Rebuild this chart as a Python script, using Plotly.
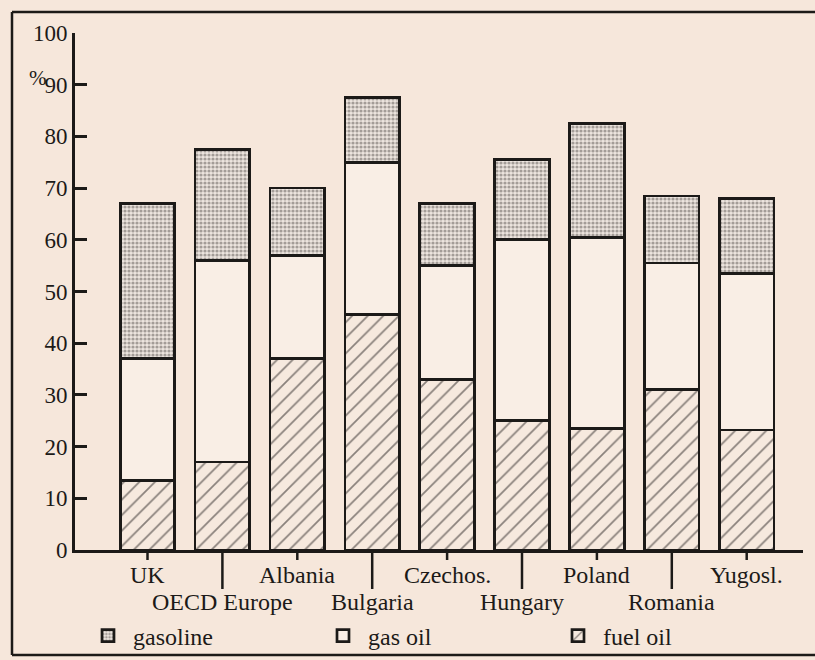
import plotly.graph_objects as go

categories = ["UK", "OECD Europe", "Albania", "Bulgaria", "Czechos.",
              "Hungary", "Poland", "Romania", "Yugosl."]
fuel_oil = [13.5, 17.0, 37.0, 45.5, 33.0, 25.0, 23.5, 31.0, 23.2]
gas_oil = [23.5, 39.0, 20.0, 29.5, 22.0, 35.0, 37.0, 24.5, 30.3]
gasoline = [30.0, 21.5, 13.0, 12.5, 12.0, 15.5, 22.0, 13.0, 14.5]
y_ticks = [0, 10, 20, 30, 40, 50, 60, 70, 80, 90, 100]

BG = "#f6e7db"
INK = "#1c1a18"
FONT = "Liberation Serif"

x_idx = list(range(len(categories)))

fig = go.Figure()
fig.add_trace(go.Bar(
    x=x_idx, y=fuel_oil, name="fuel oil", width=0.73,
    marker=dict(color="#f6e9de", line=dict(color=INK, width=2.7),
                pattern=dict(shape="/", fgcolor="#1e1b19", bgcolor="#f6e9de",
                             size=11, solidity=0.16)),
))
fig.add_trace(go.Bar(
    x=x_idx, y=gas_oil, name="gas oil", width=0.73,
    marker=dict(color="#f9eee5", line=dict(color=INK, width=2.7)),
))
fig.add_trace(go.Bar(
    x=x_idx, y=gasoline, name="gasoline", width=0.73,
    marker=dict(color="#d0c8c2", line=dict(color=INK, width=2.7),
                pattern=dict(shape=".", fgcolor="#5a5450", bgcolor="#ece4de",
                             size=4, solidity=0.5)),
))

# plot area: left 75px, right 803px, top 33px, bottom 550px
L, R, T, B = 75, 803, 33, 550
W, H = R - L, B - T

def px(xp):
    return (xp - L) / W

def py(yp):
    return (B - yp) / H

shapes = []
# outer frame (top, left, bottom; right side runs off the page)
shapes.append(dict(type="line", xref="paper", yref="paper", x0=px(12), x1=px(830),
                   y0=py(12), y1=py(12), line=dict(color=INK, width=2.5)))
shapes.append(dict(type="line", xref="paper", yref="paper", x0=px(12), x1=px(12),
                   y0=py(12), y1=py(655), line=dict(color=INK, width=2.5)))
shapes.append(dict(type="line", xref="paper", yref="paper", x0=px(12), x1=px(830),
                   y0=py(655), y1=py(655), line=dict(color=INK, width=2.5)))

annotations = []
for i, cat in enumerate(categories):
    upper = (i % 2 == 0)
    tick_end = py(560) if upper else py(589)
    shapes.append(dict(type="line", xref="x", yref="paper", x0=i, x1=i,
                       y0=0, y1=tick_end, line=dict(color=INK, width=2.5)))
    annotations.append(dict(x=i, xref="x", y=py(575) if upper else py(602), yref="paper",
                            text=cat, showarrow=False, xanchor="center", yanchor="middle",
                            font=dict(family=FONT, size=24, color=INK)))

annotations.append(dict(x=px(27), y=py(64), xref="paper", yref="paper", text="%",
                        showarrow=False, font=dict(family=FONT, size=21, color=INK)))

fig.update_layout(
    width=815, height=660,
    margin=dict(l=L, r=815 - R, t=T, b=660 - B, autoexpand=False),
    paper_bgcolor=BG, plot_bgcolor=BG,
    barmode="stack", bargap=0.27,
    showlegend=True,
    legend=dict(orientation="h", traceorder="reversed", x=px(83), y=py(636),
                xanchor="left", yanchor="middle", bgcolor="rgba(0,0,0,0)",
                font=dict(family=FONT, size=24, color=INK),
                entrywidth=180, entrywidthmode="pixels", itemwidth=40),
    shapes=shapes, annotations=annotations,
    xaxis=dict(range=[(L - 147.5) / 74.9, (R - 147.5) / 74.9], showgrid=False,
               showticklabels=False, ticks="", zeroline=False,
               showline=True, linecolor=INK, linewidth=3),
    yaxis=dict(range=[0, 100], tickvals=y_ticks, showgrid=False, zeroline=False,
               showline=True, linecolor=INK, linewidth=3,
               ticks="inside", ticklen=12, tickwidth=3, tickcolor=INK,
               tickfont=dict(family=FONT, size=23, color=INK)),
)

fig.write_html(
    "out.html",
    config={"displayModeBar": False},
    post_script="document.body.style.margin='0';document.body.style.overflow='hidden';",
)
